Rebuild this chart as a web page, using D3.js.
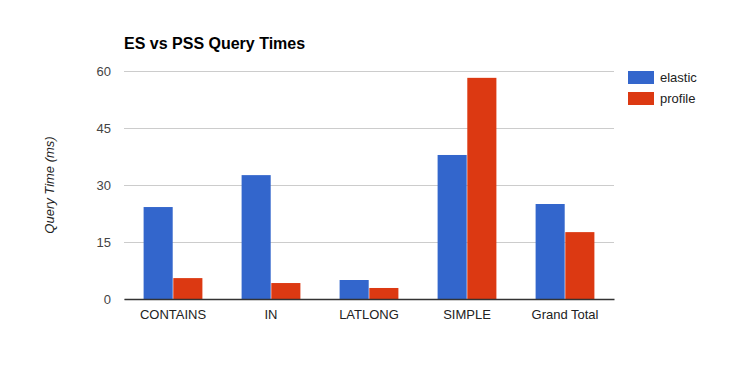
<!DOCTYPE html>
<html>
<head>
<meta charset="utf-8">
<script src="https://cdn.jsdelivr.net/npm/d3@7"></script>
<style>
  body { margin: 0; background: #fff; }
  svg { font-family: Arial, "Liberation Sans", sans-serif; }
</style>
</head>
<body>
<div id="app"></div>
<script>
const categories = ["CONTAINS", "IN", "LATLONG", "SIMPLE", "Grand Total"];
const seriesNames = ["elastic", "profile"];
const elastic = [24.2, 32.6, 5.0, 37.9, 25.0];
const profile = [5.5, 4.2, 2.9, 58.2, 17.6];
const yTicks = [0, 15, 30, 45, 60];
const colors = ["#3366cc", "#dc3912"];

const width = 738;
const height = 371;
const margin = { top: 71, right: 124, bottom: 72, left: 124 };

const svg = d3.select("#app").append("svg").attr("width", width).attr("height", height);

const x = d3.scaleBand()
  .domain(categories)
  .range([margin.left, width - margin.right])
  .paddingInner(0.4)
  .paddingOuter(0.2);

const xs = d3.scaleBand().domain(seriesNames).range([0, x.bandwidth()]).paddingInner(0.02);

const y = d3.scaleLinear().domain([0, 60]).range([height - margin.bottom, margin.top]);

// TITLE
svg.append("text")
  .attr("x", margin.left)
  .attr("y", 49)
  .style("font-size", "16px")
  .style("font-weight", "bold")
  .attr("fill", "#000")
  .text("ES vs PSS Query Times");

// GRIDLINES + Y AXIS
const yAxis = svg.append("g")
  .attr("transform", `translate(${margin.left},0)`)
  .call(d3.axisLeft(y).tickValues(yTicks).tickSize(-(width - margin.left - margin.right)).tickPadding(13));
yAxis.select(".domain").remove();
yAxis.selectAll(".tick line").attr("stroke", "#cccccc");
yAxis.selectAll(".tick text").attr("fill", "#444").style("font-size", "13px").attr("font-family", null);

svg.append("text")
  .attr("transform", `translate(54,${(margin.top + height - margin.bottom) / 2}) rotate(-90)`)
  .attr("text-anchor", "middle")
  .style("font-size", "13px")
  .style("font-style", "italic")
  .attr("fill", "#222")
  .text("Query Time (ms)");

// BARS
const data = categories.map((c, i) => ({ cat: c, values: [elastic[i], profile[i]] }));
const groups = svg.append("g").selectAll("g").data(data).join("g")
  .attr("transform", d => `translate(${x(d.cat)},0)`);
groups.selectAll("rect")
  .data(d => d.values.map((v, j) => ({ name: seriesNames[j], v, j })))
  .join("rect")
  .attr("x", d => xs(d.name))
  .attr("width", xs.bandwidth())
  .attr("y", d => y(d.v))
  .attr("height", d => y(0) - y(d.v))
  .attr("fill", d => colors[d.j]);

// X AXIS
const xAxis = svg.append("g")
  .attr("transform", `translate(0,${y(0)})`)
  .call(d3.axisBottom(x).tickSize(0).tickPadding(11));
xAxis.select(".domain").attr("stroke", "#333").attr("stroke-width", 1.5);
xAxis.selectAll(".tick text").attr("fill", "#222").style("font-size", "13px").attr("font-family", null);

// LEGEND
const legend = svg.append("g").attr("transform", "translate(628,71)");
const li = legend.selectAll("g").data(seriesNames).join("g")
  .attr("transform", (d, i) => `translate(0,${i * 21})`);
li.append("rect").attr("width", 26).attr("height", 13).attr("fill", (d, i) => colors[i]);
li.append("text")
  .attr("x", 32)
  .attr("y", 11)
  .style("font-size", "13px")
  .attr("fill", "#222")
  .text(d => d);
</script>
</body>
</html>
